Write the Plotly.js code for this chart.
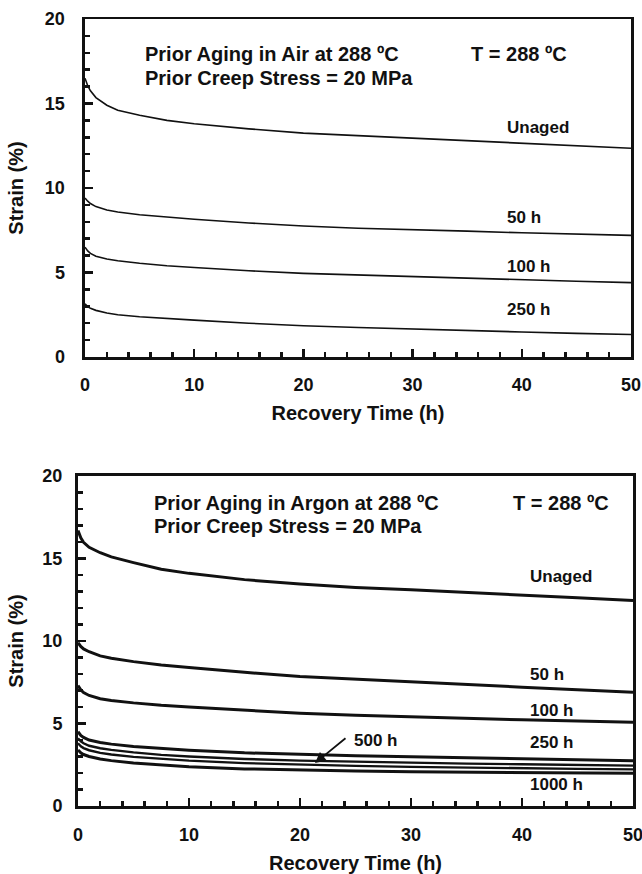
<!DOCTYPE html>
<html>
<head>
<meta charset="utf-8">
<script src="https://cdn.plot.ly/plotly-3.0.1.min.js"></script>
<style>html,body{margin:0;padding:0;background:#fff;}#chart{width:642px;height:874px;}</style>
</head>
<body>
<div id="chart"></div>
<script>
// Recovery time (h)
const time = [0, 0.1, 0.25, 0.5, 1, 2, 3, 5, 7.5, 10, 15, 20, 25, 30, 35, 40, 45, 50];

// (a) Prior aging in air
const airUnaged = [16.5, 16.3, 16.05, 15.75, 15.35, 14.9, 14.6, 14.3, 14.0, 13.8, 13.5, 13.25, 13.1, 12.95, 12.8, 12.65, 12.5, 12.35];
const air50h    = [9.4, 9.32, 9.22, 9.08, 8.9, 8.7, 8.58, 8.42, 8.28, 8.15, 7.93, 7.75, 7.62, 7.55, 7.45, 7.35, 7.27, 7.2];
const air100h   = [6.5, 6.4, 6.28, 6.13, 5.96, 5.8, 5.7, 5.55, 5.4, 5.3, 5.1, 4.95, 4.85, 4.78, 4.68, 4.57, 4.48, 4.4];
const air250h   = [3.15, 3.07, 2.98, 2.88, 2.76, 2.6, 2.5, 2.38, 2.27, 2.18, 2.0, 1.85, 1.75, 1.65, 1.57, 1.48, 1.4, 1.33];

// (b) Prior aging in argon
const arUnaged = [16.7, 16.5, 16.25, 15.98, 15.68, 15.35, 15.1, 14.75, 14.35, 14.1, 13.72, 13.45, 13.25, 13.1, 12.95, 12.8, 12.62, 12.45];
const ar50h    = [9.9, 9.8, 9.67, 9.52, 9.35, 9.1, 8.95, 8.75, 8.55, 8.4, 8.1, 7.85, 7.68, 7.5, 7.35, 7.2, 7.05, 6.9];
const ar100h   = [7.3, 7.18, 7.04, 6.88, 6.7, 6.5, 6.4, 6.25, 6.1, 6.0, 5.8, 5.62, 5.5, 5.4, 5.3, 5.22, 5.15, 5.08];
const ar250h   = [4.5, 4.4, 4.28, 4.16, 4.0, 3.85, 3.75, 3.6, 3.48, 3.38, 3.22, 3.12, 3.05, 2.98, 2.92, 2.86, 2.8, 2.75];
const ar500h   = [4.1, 4.02, 3.92, 3.8, 3.65, 3.5, 3.4, 3.25, 3.1, 3.0, 2.85, 2.75, 2.68, 2.62, 2.57, 2.53, 2.49, 2.45];
const ar500hB  = [3.8, 3.72, 3.62, 3.51, 3.38, 3.22, 3.12, 2.98, 2.85, 2.75, 2.6, 2.5, 2.43, 2.37, 2.32, 2.28, 2.25, 2.22];
const ar1000h  = [3.4, 3.32, 3.22, 3.12, 3.0, 2.85, 2.75, 2.6, 2.48, 2.38, 2.25, 2.17, 2.12, 2.08, 2.05, 2.02, 2.0, 1.98];

const xTicks = [0, 10, 20, 30, 40, 50];
const yTicks = [0, 5, 10, 15, 20];

const FONT = 'Arial, "Liberation Sans", sans-serif';
const INK = '#111';

function line(y, name, xa, ya, w) {
  return {x: time, y: y, name: name, xaxis: xa, yaxis: ya, type: 'scatter', mode: 'lines',
          line: {color: INK, width: w}, showlegend: false, hoverinfo: 'skip'};
}

const traces = [
  line(airUnaged, 'Unaged', 'x', 'y', 1.6),
  line(air50h, '50 h', 'x', 'y', 1.6),
  line(air100h, '100 h', 'x', 'y', 1.6),
  line(air250h, '250 h', 'x', 'y', 1.6),
  line(arUnaged, 'Unaged', 'x2', 'y2', 3),
  line(ar50h, '50 h', 'x2', 'y2', 3),
  line(ar100h, '100 h', 'x2', 'y2', 3),
  line(ar250h, '250 h', 'x2', 'y2', 3),
  line(ar500h, '500 h', 'x2', 'y2', 2.4),
  line(ar500hB, '500 h', 'x2', 'y2', 2.4),
  line(ar1000h, '1000 h', 'x2', 'y2', 3)
];

function xax(domain, anchor, lw, standoff) {
  return {domain: domain, anchor: anchor, range: [0, 50], tickmode: 'array', tickvals: xTicks, ticktext: xTicks.map(String),
    ticks: 'inside', ticklen: 8, tickwidth: 2.5, tickcolor: INK, showline: true, linecolor: INK, linewidth: lw,
    mirror: true, showgrid: false, zeroline: false, ticklabelstandoff: 10, ticklabeloverflow: 'allow',
    minor: {dtick: 2, tick0: 0, ticks: 'inside', ticklen: 5, tickwidth: 2.5, tickcolor: INK, showgrid: false},
    tickfont: {family: FONT, size: 18, color: INK, weight: 'bold'},
    title: {text: 'Recovery Time (h)', standoff: standoff, font: {family: FONT, size: 20, color: INK, weight: 'bold'}}};
}
function yax(domain, anchor, lw, lstand, tstand) {
  return {domain: domain, anchor: anchor, range: [0, 20], tickmode: 'array', tickvals: yTicks, ticktext: yTicks.map(String),
    ticks: 'inside', ticklen: 8, tickwidth: 2.5, tickcolor: INK, showline: true, linecolor: INK, linewidth: lw,
    mirror: true, showgrid: false, zeroline: false, ticklabelstandoff: lstand, ticklabeloverflow: 'allow',
    minor: {dtick: 1, tick0: 0, ticks: 'inside', ticklen: 5, tickwidth: 2.5, tickcolor: INK, showgrid: false},
    tickfont: {family: FONT, size: 18, color: INK, weight: 'bold'},
    title: {text: 'Strain (%)', standoff: tstand, font: {family: FONT, size: 20, color: INK, weight: 'bold'}}};
}

const HEAD = {family: FONT, size: 20, color: INK, weight: 'bold'};
const PANEL = {family: FONT, size: 20, color: INK};
function txt(x, y, text, xr, yr, font) {
  return {x: x, y: y, xref: xr, yref: yr, text: text, showarrow: false,
    xanchor: 'left', yanchor: 'middle', font: font || {family: FONT, size: 17, color: INK, weight: 'bold'}};
}

const annotations = [
  txt(-6.6, 18.05, '(a)', 'x', 'y', PANEL),
  txt(5.3, 17.9, 'Prior Aging in Air at 288 ºC', 'x', 'y', HEAD),
  txt(5.3, 16.5, 'Prior Creep Stress = 20 MPa', 'x', 'y', HEAD),
  txt(35.2, 17.9, 'T = 288 ºC', 'x', 'y', HEAD),
  txt(38.5, 13.6, 'Unaged', 'x', 'y'),
  txt(38.5, 8.28, '50 h', 'x', 'y'),
  txt(38.5, 5.38, '100 h', 'x', 'y'),
  txt(38.5, 2.84, '250 h', 'x', 'y'),

  txt(-6.0, 18.0, '(b)', 'x2', 'y2', PANEL),
  txt(6.7, 18.37, 'Prior Aging in Argon at 288 ºC', 'x2', 'y2', HEAD),
  txt(6.7, 16.98, 'Prior Creep Stress = 20 MPa', 'x2', 'y2', HEAD),
  txt(39.0, 18.37, 'T = 288 ºC', 'x2', 'y2', HEAD),
  txt(40.5, 13.94, 'Unaged', 'x2', 'y2'),
  txt(40.5, 7.94, '50 h', 'x2', 'y2'),
  txt(40.5, 5.76, '100 h', 'x2', 'y2'),
  txt(40.5, 3.82, '250 h', 'x2', 'y2'),
  txt(40.5, 1.33, '1000 h', 'x2', 'y2'),
  txt(24.7, 4.0, '500 h', 'x2', 'y2'),
  {x: 21.35, y: 2.6, xref: 'x2', yref: 'y2', ax: 32, ay: -26, text: '', showarrow: true,
   arrowhead: 2, arrowsize: 1.2, arrowwidth: 1.8, arrowcolor: INK}
];

const layout = {
  width: 642, height: 874,
  margin: {l: 78, r: 9, t: 19, b: 68},
  paper_bgcolor: '#fff', plot_bgcolor: '#fff',
  font: {family: FONT, color: INK},
  xaxis: xax([0.0126, 0.9964], 'y', 2.5, 12),
  yaxis: yax([0.5705, 1], 'x', 2.5, 14, 16),
  xaxis2: xax([0, 1], 'y2', 3, 15),
  yaxis2: yax([0, 0.4193], 'x2', 3, 9, 14),
  annotations: annotations
};

Plotly.newPlot('chart', traces, layout, {staticPlot: true});
</script>
</body>
</html>
